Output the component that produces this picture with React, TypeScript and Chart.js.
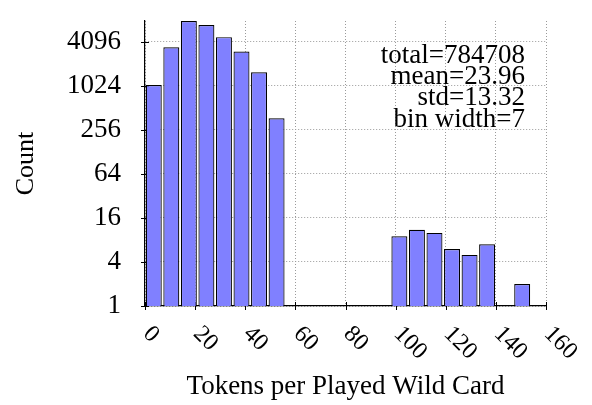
import React, { useEffect, useRef } from "react";
import { Chart, registerables } from "chart.js";

Chart.register(...registerables);

const binWidth = 7;
const binStarts = [0, 7, 14, 21, 28, 35, 42, 49, 98, 105, 112, 119, 126, 133, 147];
const counts = [1050, 3460, 7900, 6940, 4750, 3020, 1575, 370, 9, 11, 10, 6, 5, 7, 2];
const xTicks = [0, 20, 40, 60, 80, 100, 120, 140, 160];
const yTicks = [1, 4, 16, 64, 256, 1024, 4096];
const statsLines = ["total=784708", "mean=23.96", "std=13.32", "bin width=7"];
const xTitle = "Tokens per Played Wild Card";
const yTitle = "Count";

const FONT = "'Liberation Serif', 'DejaVu Serif', serif";

const overlay = {
  id: "overlay",
  beforeDatasetsDraw(chart: any) {
    const { ctx, chartArea, scales } = chart;
    ctx.save();
    ctx.strokeStyle = "#000";
    ctx.lineWidth = 1;
    for (const v of yTicks) {
      const y = Math.round(scales.y.getPixelForValue(v)) + 0.5;
      ctx.beginPath();
      ctx.moveTo(chartArea.left - 4, y);
      ctx.lineTo(chartArea.left + 4, y);
      ctx.stroke();
    }
    for (const v of xTicks) {
      const x = Math.round(scales.x.getPixelForValue(v)) + 0.5;
      ctx.beginPath();
      ctx.moveTo(x, chartArea.bottom - 4);
      ctx.lineTo(x, chartArea.bottom + 4);
      ctx.stroke();
    }
    ctx.restore();
  },
  afterDraw(chart: any) {
    const { ctx, chartArea, scales } = chart;
    ctx.save();
    ctx.fillStyle = "#000";
    // rotated x tick labels
    ctx.font = `24px ${FONT}`;
    ctx.textAlign = "left";
    ctx.textBaseline = "alphabetic";
    for (const v of xTicks) {
      const x = scales.x.getPixelForValue(v);
      ctx.save();
      ctx.translate(x + 3, chartArea.bottom + 23);
      ctx.rotate(Math.PI / 4);
      ctx.fillText(String(v), 0, 8);
      ctx.restore();
    }
    // x title
    ctx.font = `27px ${FONT}`;
    ctx.textAlign = "center";
    ctx.fillText(xTitle, (chartArea.left + chartArea.right) / 2, chartArea.bottom + 88);
    // y title
    ctx.font = `26px ${FONT}`;
    ctx.save();
    ctx.translate(33, (chartArea.top + chartArea.bottom) / 2);
    ctx.rotate(-Math.PI / 2);
    ctx.textAlign = "center";
    ctx.fillText(yTitle, 0, 0);
    ctx.restore();
    // stats
    ctx.font = `27px ${FONT}`;
    ctx.textAlign = "right";
    statsLines.forEach((line, i) => {
      ctx.fillText(line, chartArea.right - 21, chartArea.top + 41.7 + i * 21.3);
    });
    ctx.restore();
  },
};

export default function App() {
  const canvasRef = useRef<HTMLCanvasElement | null>(null);

  useEffect(() => {
    if (!canvasRef.current) return;
    const data = binStarts.map((s, i) => ({ x: s + binWidth / 2, y: counts[i] }));
    const chart = new Chart(canvasRef.current, {
      type: "bar",
      data: {
        datasets: [
          {
            data: data as any,
            backgroundColor: "rgb(128,128,255)",
            borderColor: "#000",
            borderWidth: 1.2,
            barPercentage: 0.91,
            categoryPercentage: 1,
          },
        ],
      },
      plugins: [overlay],
      options: {
        animation: false,
        responsive: true,
        maintainAspectRatio: false,
        devicePixelRatio: 1,
        layout: { padding: { top: 21, right: 46, left: 0, bottom: 0 } },
        plugins: { legend: { display: false }, tooltip: { enabled: false } },
        scales: {
          x: {
            type: "linear",
            min: xTicks[0],
            max: xTicks[xTicks.length - 1],
            offset: false,
            afterBuildTicks: (s: any) => {
              s.ticks = xTicks.map((v) => ({ value: v }));
            },
            afterFit: (s: any) => {
              s.height = 99;
              s.paddingLeft = 0;
              s.paddingRight = 0;
            },
            ticks: { display: false },
            grid: { color: "#9a9a9a", lineWidth: 1, drawTicks: false, tickLength: 0, offset: false },
            border: { display: true, color: "#000", width: 1.2, dash: [1, 2] },
          },
          y: {
            type: "logarithmic",
            min: yTicks[0],
            max: Math.max(...counts),
            bounds: "data",
            afterBuildTicks: (s: any) => {
              s.ticks = yTicks.map((v) => ({ value: v }));
            },
            afterFit: (s: any) => {
              s.width = 145;
              s.paddingTop = 0;
              s.paddingBottom = 0;
            },
            ticks: {
              autoSkip: false,
              padding: 24,
              color: "#000",
              font: { family: FONT, size: 27 },
              callback: (v: any) => String(v),
            },
            grid: { color: "#9a9a9a", lineWidth: 1, drawTicks: false, tickLength: 0 },
            border: { display: true, color: "#000", width: 1.2, dash: [1, 2] },
          },
        },
      } as any,
    });
    return () => chart.destroy();
  }, []);

  return (
    <div style={{ position: "absolute", left: 0, top: 0, width: 592, height: 405, background: "#fff" }}>
      <canvas ref={canvasRef} />
    </div>
  );
}
